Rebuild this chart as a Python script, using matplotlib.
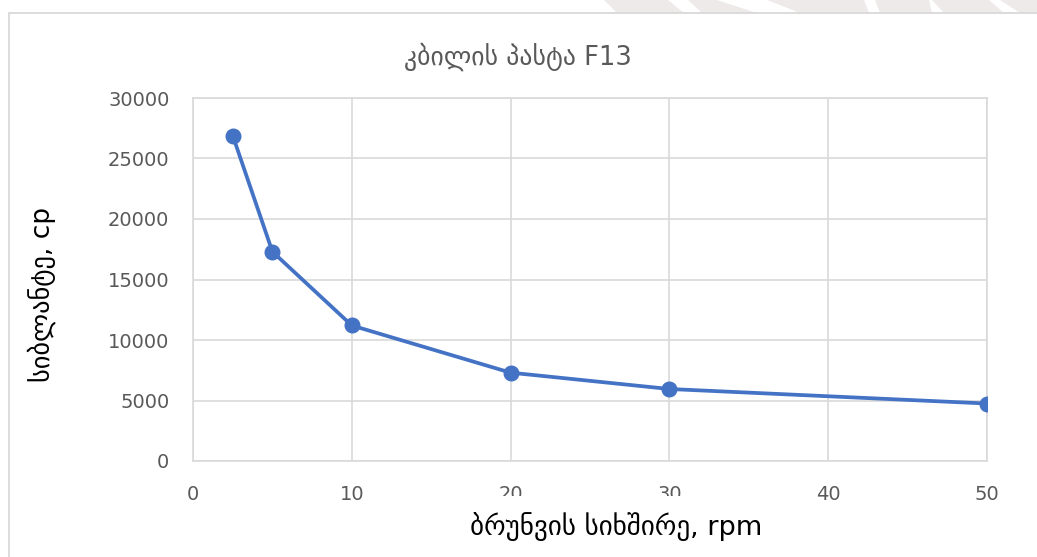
import matplotlib.pyplot as plt
from matplotlib.patches import Rectangle, Polygon

plt.rcParams['font.family'] = ['DejaVu Sans']

# rotation speed (rpm) vs viscosity (cp)
speed_rpm = [2.5, 5, 10, 20, 30, 50]
viscosity_cp = [26900, 17300, 11200, 7300, 5950, 4750]

x_ticks = [0, 10, 20, 30, 40, 50]
y_ticks = [0, 5000, 10000, 15000, 20000, 25000, 30000]

title = 'კბილის პასტა F13'
x_label = 'ბრუნვის სიხშირე, rpm'
y_label = 'სიბლანტე, cp'

W, H = 1037, 557
fig = plt.figure(figsize=(W / 100, H / 100), dpi=100)


def px(x, y):
    # pixel coords (from top-left) -> figure fraction
    return x / W, 1 - y / H


# faint striped backdrop peeking above the chart frame
pink = '#efeaea'
fig.patches.append(Polygon([px(604, 0), px(W, 0), px(W, 13), px(617, 13)],
                           closed=True, transform=fig.transFigure,
                           facecolor=pink, edgecolor='none', zorder=0))
gaps = [
    [(668, 0), (688, 0), (702, 13), (684, 13)],
    [(717, 0), (767, 0), (800, 13), (757, 13)],
    [(864, 0), (875, 0), (880, 13), (869, 13)],
    [(929, 0), (932, 0), (944, 13), (932, 13)],
    [(989, 0), (1000, 0), (1020, 13), (1004, 13)],
]
for g in gaps:
    fig.patches.append(Polygon([px(*p) for p in g], closed=True,
                               transform=fig.transFigure, facecolor='white',
                               edgecolor='none', zorder=0.5))

# chart frame
x0, y0 = px(9, 13)
fig.patches.append(Rectangle((x0, -0.1), 1.2, y0 + 0.1, transform=fig.transFigure,
                             facecolor='white', edgecolor='#d9d9d9', lw=1.3, zorder=1))

ax = fig.add_axes([193 / W, 1 - 461 / H, 794 / W, 363 / H])
ax.set_zorder(2)
ax.set_facecolor('none')
ax.plot(speed_rpm, viscosity_cp, color='#4472C4', lw=2.7, marker='o',
        markersize=10.5, zorder=3)

ax.set_xlim(0, 50)
ax.set_ylim(0, 30000)
ax.set_xticks(x_ticks)
ax.set_yticks(y_ticks)
ax.grid(True, color='#d9d9d9', lw=1.2)
ax.set_axisbelow(True)
for s in ax.spines.values():
    s.set_color('#d9d9d9')
    s.set_linewidth(1.2)
ax.tick_params(length=0, colors='#595959', labelsize=14)
ax.tick_params(axis='y', pad=17)
ax.tick_params(axis='x', pad=17)

# white block behind the x label (it overlaps some tick labels)
bx, by = px(455, 545)
fig.patches.append(Rectangle((bx, by), 325 / W, 49 / H, transform=fig.transFigure,
                             facecolor='white', edgecolor='none', zorder=5))

fig.text(518 / W, 1 - 57 / H, title, ha='center', va='center',
         fontsize=18.5, color='#595959', zorder=6)
fig.text(616 / W, 1 - 527 / H, x_label, ha='center', va='center',
         fontsize=19.5, color='black', zorder=6)
fig.text(42 / W, 1 - 294 / H, y_label, ha='center', va='center', rotation=90,
         fontsize=19, color='black', zorder=6)

fig.savefig('out.png', dpi=100, facecolor='white')
